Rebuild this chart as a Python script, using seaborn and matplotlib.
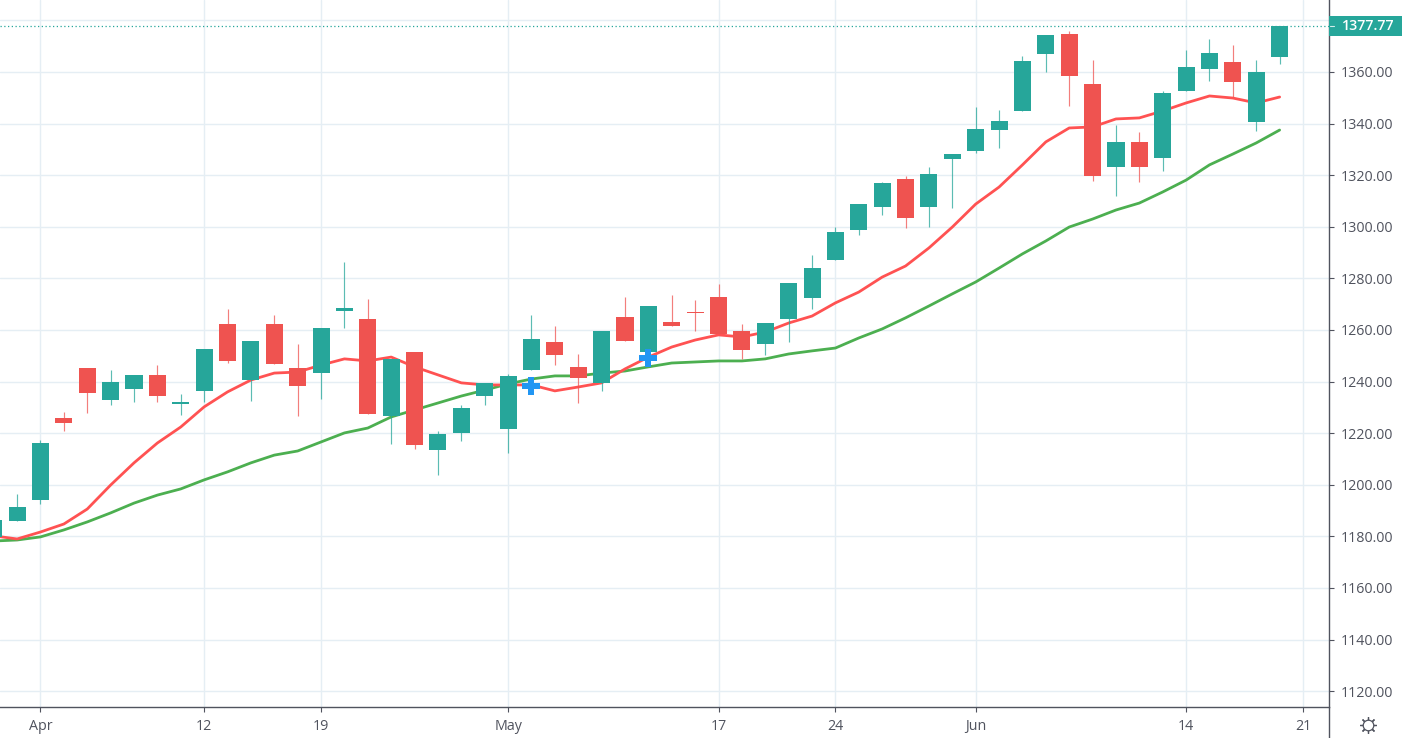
import matplotlib
matplotlib.use("Agg")
import matplotlib.pyplot as plt
from matplotlib.lines import Line2D
from matplotlib.patches import Rectangle
import pandas as pd
import seaborn as sns

# Candles, first one sits just off the left edge
sessions = list(range(-2, 54))

opens = [1179.8, 1186.0, 1194.1, 1225.9, 1245.3, 1232.9, 1237.1, 1242.6, 1231.5, 1236.4,
         1262.3, 1240.6, 1262.3, 1245.3, 1243.3, 1267.4, 1264.3, 1226.7, 1251.5, 1213.5,
         1220.1, 1234.4, 1221.6, 1244.5, 1255.3, 1245.7, 1239.5, 1265.0, 1251.5, 1263.1,
         1266.8, 1272.8, 1259.6, 1254.6, 1264.3, 1272.4, 1287.1, 1298.8, 1307.7, 1318.5,
         1307.7, 1326.3, 1329.4, 1337.5, 1344.9, 1367.0, 1374.7, 1355.3, 1323.2, 1332.9,
         1326.7, 1352.6, 1361.2, 1363.9, 1340.6, 1365.8]
closes = [1186.4, 1191.4, 1216.2, 1224.0, 1235.6, 1239.8, 1242.6, 1234.4, 1231.9, 1252.6,
          1248.0, 1255.7, 1246.8, 1238.3, 1260.8, 1268.5, 1227.4, 1248.8, 1215.4, 1219.7,
          1229.8, 1239.5, 1242.2, 1256.5, 1250.3, 1241.4, 1259.6, 1255.7, 1269.3, 1261.5,
          1266.4, 1258.4, 1252.2, 1262.7, 1278.2, 1284.0, 1298.0, 1308.8, 1317.0, 1303.4,
          1320.5, 1328.2, 1337.9, 1341.0, 1364.3, 1374.3, 1358.4, 1319.7, 1332.9, 1323.2,
          1351.9, 1361.9, 1367.4, 1356.1, 1360.0, 1377.77]
highs = [1186.4, 1196.4, 1217.4, 1228.2, 1245.3, 1244.5, 1242.6, 1246.4, 1235.2, 1252.6,
         1268.1, 1255.7, 1265.8, 1254.6, 1260.8, 1286.4, 1272.0, 1248.8, 1251.5, 1220.9,
         1230.9, 1239.5, 1242.9, 1265.8, 1261.5, 1250.7, 1259.6, 1272.8, 1269.3, 1273.6,
         1271.6, 1277.8, 1262.3, 1262.7, 1278.2, 1289.1, 1299.9, 1308.8, 1317.4, 1319.7,
         1323.2, 1328.2, 1346.4, 1345.3, 1366.2, 1374.3, 1375.9, 1364.7, 1339.5, 1336.7,
         1352.6, 1368.5, 1372.8, 1370.5, 1364.7, 1377.77]
lows = [1179.8, 1186.0, 1192.6, 1220.9, 1227.8, 1230.9, 1232.1, 1232.1, 1227.1, 1232.1,
        1247.2, 1232.5, 1246.8, 1226.7, 1233.3, 1260.8, 1227.4, 1215.8, 1213.9, 1203.8,
        1217.0, 1230.9, 1212.3, 1244.5, 1246.4, 1231.7, 1236.4, 1255.7, 1251.5, 1261.5,
        1259.6, 1258.4, 1248.8, 1250.3, 1255.3, 1268.1, 1287.1, 1296.8, 1304.6, 1299.5,
        1299.9, 1307.3, 1328.6, 1330.5, 1344.9, 1360.0, 1346.8, 1317.8, 1311.9, 1317.4,
        1321.6, 1352.6, 1356.5, 1350.3, 1337.1, 1363.1]

# Moving averages
ma_fast = [1180.2, 1179.0, 1181.7, 1184.8, 1190.6, 1199.9, 1208.5, 1216.2, 1222.4, 1230.2,
           1236.0, 1240.6, 1243.3, 1243.7, 1246.4, 1248.8, 1248.0, 1249.5, 1245.7, 1242.6,
           1239.5, 1238.7, 1238.7, 1238.7, 1236.4, 1237.9, 1239.5, 1244.9, 1249.5, 1253.4,
           1256.1, 1258.1, 1257.3, 1259.2, 1262.7, 1265.4, 1270.5, 1274.7, 1280.5, 1284.8,
           1291.8, 1299.9, 1308.8, 1315.4, 1324.0, 1332.9, 1338.3, 1338.7, 1341.8, 1342.2,
           1344.9, 1348.0, 1350.7, 1349.9, 1348.0, 1350.3]
ma_slow = [1178.2, 1178.6, 1179.8, 1182.5, 1185.6, 1189.1, 1192.9, 1196.0, 1198.4, 1201.9,
           1205.0, 1208.5, 1211.5, 1213.1, 1216.6, 1220.1, 1222.0, 1226.3, 1229.0, 1231.7,
           1234.4, 1236.7, 1239.1, 1241.0, 1242.2, 1242.2, 1243.3, 1244.1, 1245.7, 1247.2,
           1247.6, 1248.0, 1248.0, 1248.8, 1250.7, 1251.9, 1253.0, 1256.9, 1260.4, 1264.7,
           1269.3, 1274.0, 1278.6, 1284.0, 1289.5, 1294.5, 1299.9, 1303.0, 1306.5, 1309.2,
           1313.5, 1318.1, 1324.0, 1328.2, 1332.5, 1337.5]

# Blue plus signals
signal_sessions = [21, 26]
signal_prices = [1238.4, 1249.2]

last_price = 1377.77

date_ticks = [0, 7, 12, 20, 29, 34, 40, 49, 54]
date_labels = ["Apr", "12", "19", "May", "17", "24", "Jun", "14", "21"]
price_ticks = list(range(1120, 1381, 20))

UP = "#26A69A"
DOWN = "#EF5350"
GRID = "#E5EEF4"
AXIS = "#50535E"

sns.set_style("white")
plt.rcParams["font.family"] = ["Open Sans", "DejaVu Sans"]

W, H = 1402, 738
fig = plt.figure(figsize=(W / 100, H / 100), dpi=100)
ax = fig.add_axes([0, (H - 707) / H, 1328.5 / W, 707 / H])

df = pd.DataFrame({
    "session": sessions,
    "open": opens,
    "close": closes,
    "high": highs,
    "low": lows,
    "fast": ma_fast,
    "slow": ma_slow,
})
colors = [UP if c >= o else DOWN for o, c in zip(df["open"], df["close"])]

# Lines go behind the candles
sns.lineplot(data=df, x="session", y="slow", color="#4CAF50", lw=2.0, ax=ax, zorder=2)
sns.lineplot(data=df, x="session", y="fast", color="#FF5252", lw=2.0, ax=ax, zorder=2.1)

ax.vlines(df["session"], df["low"], df["high"], colors=colors, lw=0.85, alpha=0.75, zorder=3)
ax.bar(df["session"], df["close"] - df["open"], bottom=df["open"], width=0.73,
       color=colors, linewidth=0, zorder=3.1)

ax.plot(signal_sessions, signal_prices, ls="none", marker="P", ms=12.5,
        color="#2196F3", mew=0, zorder=4)

ax.axhline(last_price, color=UP, lw=0.9, ls=(0, (1, 2)), zorder=3)

ax.set_xlim(-1.732, 55.09)
ax.set_ylim(1113.87, 1387.9)
ax.set_xticks(date_ticks)
ax.set_xticklabels(date_labels)
ax.set_yticks(price_ticks)
ax.set_yticklabels([f"{p:.2f}" for p in price_ticks])
ax.set_xlabel("")
ax.set_ylabel("")
ax.yaxis.tick_right()

ax.grid(True, color=GRID, lw=1.0)
ax.set_axisbelow(True)
ax.tick_params(axis="x", length=3.6, width=0.8, color=AXIS, labelcolor=AXIS,
               labelsize=10.3, pad=5, bottom=True)
ax.tick_params(axis="y", length=3.6, width=0.8, color=AXIS, labelcolor=AXIS,
               labelsize=10.3, pad=5.5, right=True)

for side in ["top", "left"]:
    ax.spines[side].set_visible(False)
for side in ["right", "bottom"]:
    ax.spines[side].set_color(AXIS)
    ax.spines[side].set_linewidth(1.0)

# Right axis carries on through the date strip
fig.add_artist(Line2D([1328.5 / W, 1328.5 / W], [0, (H - 707) / H], color=AXIS, lw=1.0))

# Last price tag, hides most of the 1380 label
fig.add_artist(Rectangle((1328.5 / W, (H - 36) / H), (W - 1328.5) / W, 20 / H,
                         transform=fig.transFigure, color=UP, lw=0, zorder=5))
fig.add_artist(Line2D([1329.5 / W, 1334 / W], [(H - 26) / H, (H - 26) / H], color="white",
                      lw=0.8, alpha=0.8, zorder=6))
fig.text(1368 / W, (H - 26.5) / H, f"{last_price:.2f}", color="white", fontsize=10.3,
         fontweight="semibold", ha="center", va="center", zorder=6)

# Settings sun icon
sun_x, sun_y = 1368 / W, (H - 725) / H
fig.add_artist(Line2D([sun_x], [sun_y], marker=(8, 2, 0), ms=12, mew=0.9, color=AXIS,
                      transform=fig.transFigure))
fig.add_artist(Line2D([sun_x], [sun_y], marker="o", ms=7.6, mew=0.9, mfc="white", mec=AXIS,
                      transform=fig.transFigure))

fig.savefig("out.png", dpi=100)
